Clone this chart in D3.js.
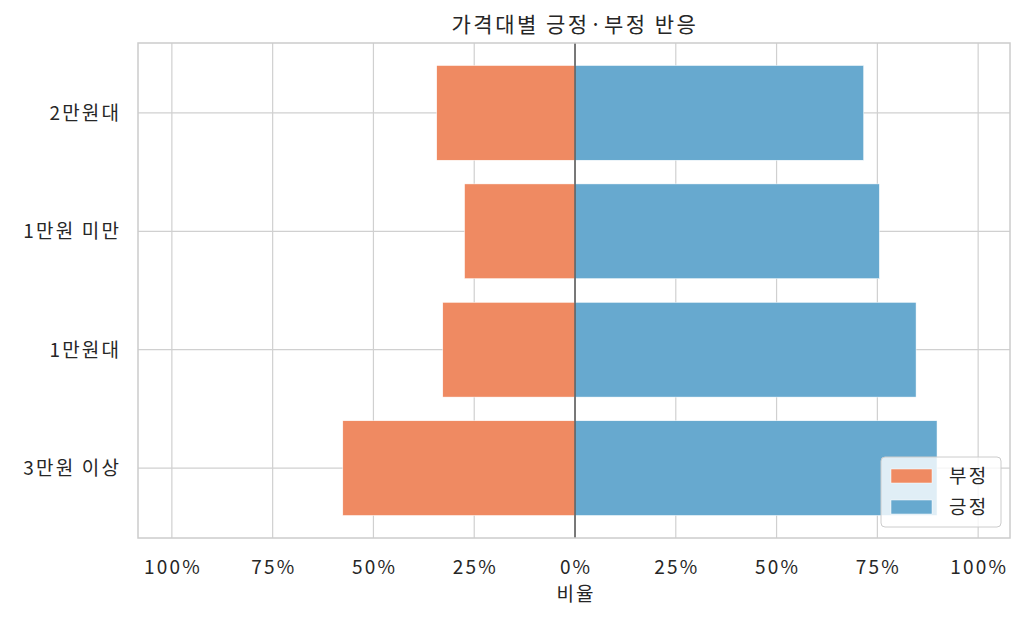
<!DOCTYPE html>
<html><head><meta charset="utf-8">
<script src="https://cdn.jsdelivr.net/npm/d3@7/dist/d3.min.js"></script>
<style>body{margin:0;background:#fff;} svg{display:block;font-family:"Noto Sans CJK KR","Noto Sans",sans-serif;}</style>
</head><body><svg id="c" width="1024" height="622"></svg>
<script>
const categories = ["2만원대", "1만원 미만", "1만원대", "3만원 이상"];
const negative = [0.343, 0.274, 0.328, 0.576];
const positive = [0.716, 0.755, 0.846, 0.898];
const xTicks = [-1, -0.75, -0.5, -0.25, 0, 0.25, 0.5, 0.75, 1];
const seriesNames = ["부정", "긍정"];
const colors = {"부정": "#ef8a62", "긍정": "#67a9cf"};

const svg = d3.select("#c");
const L = 138, R = 1010, T = 43, B = 538;
const x = d3.scaleLinear().domain([-1.084, 1.079]).range([L, R]);
const y = d3.scaleLinear().domain([-0.59, 3.59]).range([T, B]);
const barH = y(0.8) - y(0);
const textColor = "#262626";
const FS = 19, LS = 2.2;

// grid
const g = svg.append("g");
g.selectAll("line.vx").data(xTicks).join("line")
  .attr("x1", d => x(d)).attr("x2", d => x(d)).attr("y1", T).attr("y2", B)
  .attr("stroke", "#d0d0d0").attr("stroke-width", 1.2);
g.selectAll("line.hy").data(categories).join("line")
  .attr("x1", L).attr("x2", R).attr("y1", (d, i) => y(i)).attr("y2", (d, i) => y(i))
  .attr("stroke", "#d0d0d0").attr("stroke-width", 1.2);

// bars
svg.append("g").selectAll("rect").data(categories).join("rect")
  .attr("x", (d, i) => x(-negative[i])).attr("width", (d, i) => x(0) - x(-negative[i]))
  .attr("y", (d, i) => y(i) - barH / 2).attr("height", barH)
  .attr("fill", colors["부정"]).attr("stroke", "#fff").attr("stroke-width", 0.5);
svg.append("g").selectAll("rect").data(categories).join("rect")
  .attr("x", x(0)).attr("width", (d, i) => x(positive[i]) - x(0))
  .attr("y", (d, i) => y(i) - barH / 2).attr("height", barH)
  .attr("fill", colors["긍정"]).attr("stroke", "#fff").attr("stroke-width", 0.5);

// zero line
svg.append("line").attr("x1", x(0)).attr("x2", x(0)).attr("y1", T).attr("y2", B)
  .attr("stroke", "#555").attr("stroke-width", 1.5);

// frame
svg.append("rect").attr("x", L).attr("y", T).attr("width", R - L).attr("height", B - T)
  .attr("fill", "none").attr("stroke", "#cccccc").attr("stroke-width", 1.5);

// x tick labels
svg.append("g").selectAll("text").data(xTicks).join("text")
  .attr("x", d => x(d) + LS / 2).attr("y", 574).attr("text-anchor", "middle")
  .attr("font-size", FS).attr("letter-spacing", LS).attr("fill", textColor)
  .text(d => Math.round(Math.abs(d) * 100) + "%");

// y tick labels
svg.append("g").selectAll("text").data(categories).join("text")
  .attr("x", 119 + LS).attr("y", (d, i) => y(i)).attr("dy", "0.36em").attr("text-anchor", "end")
  .attr("font-size", FS).attr("letter-spacing", LS).attr("fill", textColor).text(d => d);

// axis title
svg.append("text").attr("x", x(0) + LS / 2).attr("y", 601).attr("text-anchor", "middle")
  .attr("font-size", FS).attr("letter-spacing", LS).attr("fill", textColor).text("비율");

// title
svg.append("text").attr("x", (L + R) / 2 + 1).attr("y", 32).attr("text-anchor", "middle")
  .attr("font-size", 21).attr("letter-spacing", 2.5).attr("fill", textColor).text("가격대별 긍정·부정 반응");

// legend
const lg = svg.append("g").attr("transform", "translate(881,457)");
lg.append("rect").attr("width", 120).attr("height", 70).attr("rx", 4)
  .attr("fill", "#fff").attr("fill-opacity", 0.8).attr("stroke", "#cccccc").attr("stroke-width", 1);
seriesNames.forEach((s, i) => {
  lg.append("rect").attr("x", 10).attr("y", 12 + i * 31).attr("width", 41).attr("height", 14)
    .attr("fill", colors[s]).attr("stroke", "#fff").attr("stroke-width", 0.5);
  lg.append("text").attr("x", 68).attr("y", 19 + i * 31).attr("dy", "0.36em")
    .attr("font-size", FS).attr("letter-spacing", LS).attr("fill", textColor).text(s);
});
</script></body></html>
